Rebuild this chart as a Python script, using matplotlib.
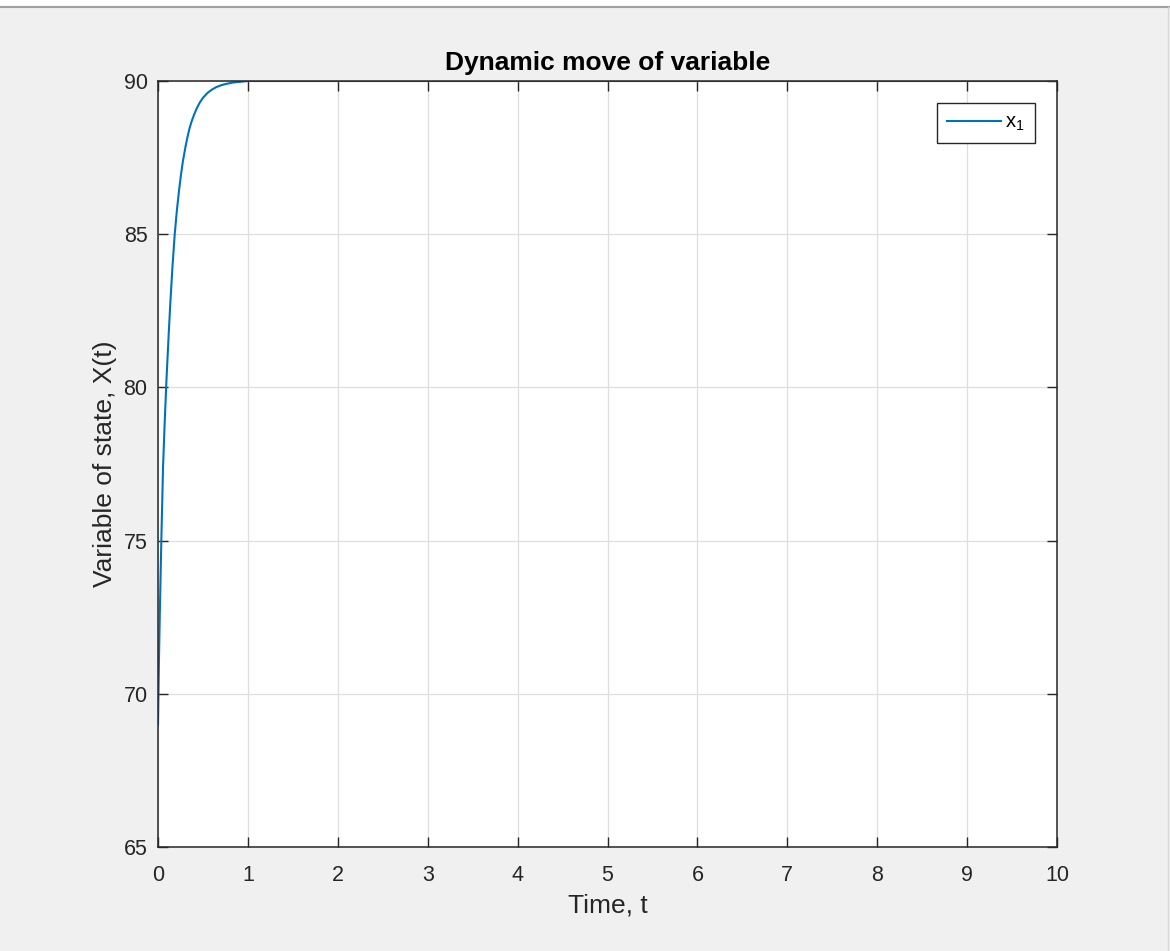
import numpy as np
import matplotlib.pyplot as plt
from matplotlib.lines import Line2D
from matplotlib.patches import Rectangle

# values
t = [0.0, 0.01, 0.02, 0.037, 0.056, 0.075, 0.095, 0.12, 0.138, 0.16, 0.186,
     0.21, 0.233, 0.255, 0.278, 0.31, 0.33, 0.352, 0.375, 0.40, 0.43, 0.463,
     0.5, 0.55, 0.6, 0.648, 0.7, 0.75, 0.833, 0.9, 1.0, 10.0]
x1 = [69.0, 71.0, 72.6, 75.0, 77.4, 78.9, 80.3, 81.8, 82.8, 83.9, 85.0,
      85.78, 86.4, 86.93, 87.4, 87.92, 88.2, 88.47, 88.69, 88.89, 89.1, 89.29,
      89.45, 89.61, 89.72, 89.8, 89.86, 89.9, 89.95, 89.97, 90.0, 90.0]

xticks = [0, 1, 2, 3, 4, 5, 6, 7, 8, 9, 10]
yticks = [65, 70, 75, 80, 85, 90]

plt.rcParams['font.family'] = ['Liberation Sans', 'DejaVu Sans']
plt.rcParams['mathtext.fontset'] = 'custom'
plt.rcParams['mathtext.rm'] = 'Liberation Sans'
plt.rcParams['mathtext.it'] = 'Liberation Sans'
dark = '#262626'

fig = plt.figure(figsize=(11.7, 9.51), dpi=100, facecolor='#f0f0f0')
ax = fig.add_axes([158 / 1170, 1 - 847 / 951, (1057 - 158) / 1170, (847 - 81) / 951])

ax.plot(t, x1, color='#0072BD', lw=1.5, label=r'x$_\mathrm{1}$')

ax.set_xlim(0, 10)
ax.set_ylim(65, 90)
ax.set_xticks(xticks)
ax.set_yticks(yticks)
ax.grid(True, color='#dedede', lw=0.9)
ax.set_axisbelow(True)
ax.tick_params(direction='in', length=7, width=1, colors=dark, labelsize=15.5,
               top=True, right=True)
ax.tick_params(axis='x', pad=13)
ax.tick_params(axis='y', pad=7.5)
for s in ax.spines.values():
    s.set_color(dark)
    s.set_linewidth(1.1)

ax.set_title('Dynamic move of variable', fontsize=19, fontweight='bold',
             color='black', pad=8)
ax.set_xlabel('Time, t', fontsize=19, color=dark, labelpad=5)
ax.set_ylabel('Variable of state, X(t)', fontsize=19, color=dark, labelpad=5)

leg = ax.legend(loc='upper right', bbox_to_anchor=(1 - 22 / 899, 1 - 22 / 766),
                borderaxespad=0, fancybox=False, framealpha=1, edgecolor=dark,
                fontsize=14.5, handlelength=2.7, borderpad=0.5, handletextpad=0.2)
leg.get_frame().set_linewidth(1.0)

# window border
fig.add_artist(Rectangle((0, 1 - 6 / 951), 1, 6 / 951, transform=fig.transFigure,
                         color='white', lw=0))
fig.add_artist(Line2D([0, 1], [1 - 6.5 / 951, 1 - 6.5 / 951], transform=fig.transFigure,
                      color='#a0a0a0', lw=1.5))
fig.add_artist(Line2D([1167.5 / 1170, 1167.5 / 1170], [0, 1 - 6.5 / 951],
                      transform=fig.transFigure, color='#d8d8d8', lw=1))

fig.savefig('out.png', dpi=100, facecolor=fig.get_facecolor())
